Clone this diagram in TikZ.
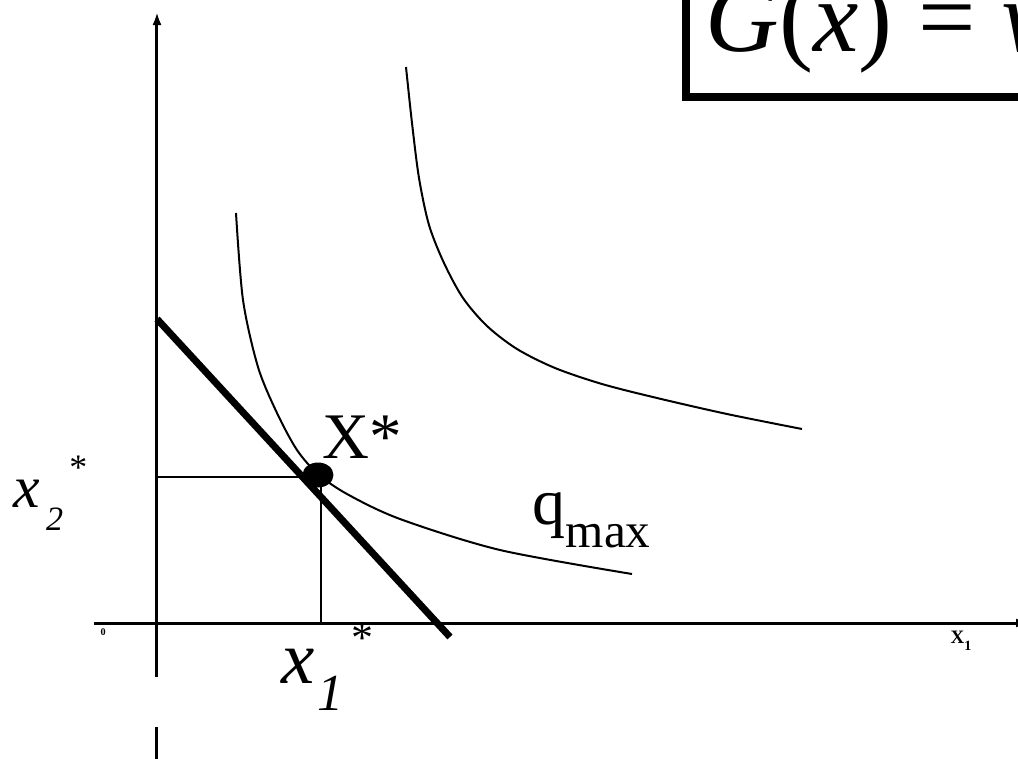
\documentclass[tikz,border=0pt]{standalone}
\usepackage{fontspec}
\setmainfont{Liberation Serif}
\usetikzlibrary{arrows.meta}

\begin{document}
\begin{tikzpicture}[>={Latex[length=1.3mm,width=0.9mm]},
  axis/.style={line width=0.3mm},
  curve/.style={line width=0.2mm,smooth},
  guide/.style={line width=0.2mm}]
  \useasboundingbox (-1.57,-1.35) rectangle (8.61,6.23);
  \coordinate (O) at (0,0);
  \coordinate (ytop) at (0,6.11);
  \coordinate (ybot) at (0,-0.54);
  \coordinate (xbeg) at (-0.63,0);
  \coordinate (xend) at (8.72,0);
  \draw[axis,->] (ybot) -- (ytop);
  \draw[axis] (0,-1.04) -- (0,-1.45);
  \draw[axis,->] (xbeg) -- (xend);
  \node[anchor=base west,inner sep=0pt] (zero) at (-0.57,-0.12) {\fontsize{2.9}{3}\selectfont\bfseries 0};
  \node[anchor=base west,inner sep=0pt] (xlab) at (7.93,-0.20) {\fontsize{5.4}{6}\selectfont\bfseries X\raisebox{-0.7mm}{\fontsize{4}{4}\selectfont 1}};
  \draw[curve] plot coordinates {(0.79,4.10) (0.86,3.23) (1.01,2.56) (1.20,2.10) (1.40,1.73) (1.61,1.49) (1.90,1.29) (2.43,1.04) (3.43,0.73) (4.75,0.49)};
  \draw[curve] plot coordinates {(2.49,5.56) (2.55,5.00) (2.62,4.45) (2.72,3.98) (2.87,3.60) (3.06,3.25) (3.30,2.97) (3.60,2.74) (3.98,2.55) (4.45,2.39) (5.00,2.25) (5.70,2.09) (6.45,1.94)};
  \coordinate (B1) at (0,3.04);
  \coordinate (B2) at (2.93,-0.14);
  \draw[line width=0.7mm] (B1) -- (B2);
  \coordinate (X) at (1.61,1.48);
  \coordinate (x2s) at (0,1.46);
  \coordinate (x1s) at (1.64,0);
  \draw[guide] (x2s) -| (x1s);
  \fill (X) ellipse (0.155 and 0.125);
  \node[anchor=base west,inner sep=0pt] (Xstar) at (1.65,1.65) {\fontsize{18.5}{20}\selectfont X*};
  \node[anchor=base west,inner sep=0pt] (qmax) at (3.75,0.99) {\fontsize{18.8}{20}\selectfont q\raisebox{-0.35em}{\fontsize{14}{15}\selectfont max}};
  \node[anchor=base west,inner sep=0pt] (x2lab) at (-1.44,1.16) {\fontsize{17}{18}\selectfont\textit{x}\hspace{0.6mm}\raisebox{-2.3mm}{\fontsize{9.7}{10}\selectfont\textit{2}}\hspace{0.6mm}\raisebox{2.8mm}{\fontsize{10.2}{11}\selectfont *}};
  \node[anchor=base west,inner sep=0pt] (x1lab) at (1.24,-0.60) {\fontsize{21.3}{22}\selectfont\textit{x}\hspace{0.3mm}\raisebox{-2.7mm}{\fontsize{14.8}{15}\selectfont\textit{1}}\hspace{0.8mm}\raisebox{3.1mm}{\fontsize{12.5}{13}\selectfont *}};
  \node[draw,line width=0.8mm,anchor=base west,inner xsep=2mm,inner ysep=4.55mm,text depth=0pt] (goal) at (5.25,5.72) {\fontsize{29}{32}\selectfont\textit{G}(\textit{x}) = \textit{w}};
\end{tikzpicture}
\end{document}
